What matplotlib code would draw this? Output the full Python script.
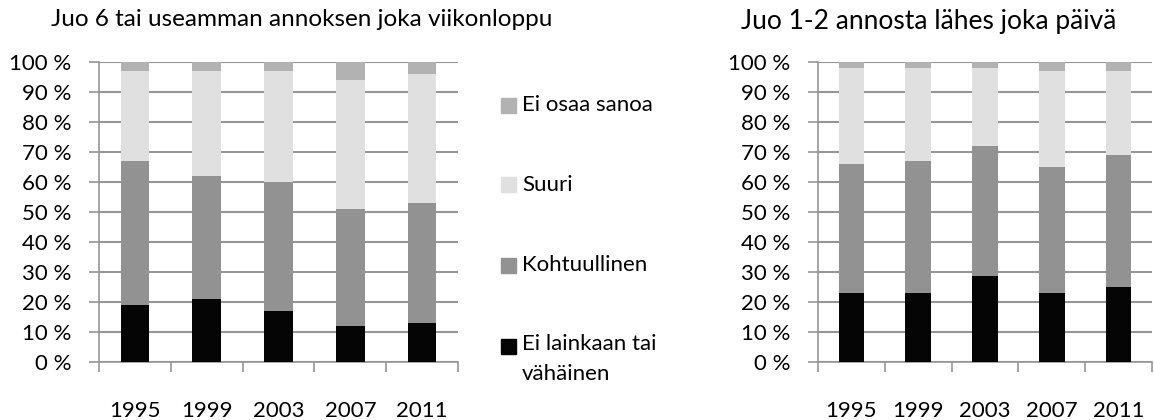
import numpy as np
import matplotlib
matplotlib.use('Agg')
from matplotlib import pyplot as plt
from matplotlib.patches import Rectangle

plt.rcParams['font.family'] = ['Lato', 'DejaVu Sans']

years = ['1995', '1999', '2003', '2007', '2011']
labels = ['Ei lainkaan tai\nvähäinen', 'Kohtuullinen', 'Suuri', 'Ei osaa sanoa']
colors = ['#050505', '#929292', '#e0e0e0', '#b2b2b2']

# Juo 6 tai useamman annoksen joka viikonloppu
left_vals = [
    [19, 21, 17, 12, 13],   # Ei lainkaan tai vähäinen
    [48, 41, 43, 39, 40],   # Kohtuullinen
    [30, 35, 37, 43, 43],   # Suuri
    [3, 3, 3, 6, 4],        # Ei osaa sanoa
]
# Juo 1-2 annosta lähes joka päivä
right_vals = [
    [23, 23, 28.5, 23, 25],
    [43, 44, 43.5, 42, 44],
    [32, 31, 26, 32, 28],
    [2, 2, 2, 3, 3],
]

fig = plt.figure(figsize=(11.54, 4.2), dpi=100)
ax1 = fig.add_axes([0.0858, 0.1381, 0.3111, 0.7143])
ax2 = fig.add_axes([0.7088, 0.1381, 0.2895, 0.7143])

grid_col = '#969696'
fs = 16


def draw(ax, vals, width):
    x = np.arange(len(years))
    bottom = np.zeros(len(years))
    for v, c in zip(vals, colors):
        ax.bar(x, v, width, bottom=bottom, color=c, zorder=3)
        bottom += np.array(v)
    ax.set_ylim(0, 100)
    ax.set_xlim(-0.5, len(years) - 0.5)
    ax.set_yticks(range(0, 101, 10))
    ax.set_yticklabels([f'{t} %' for t in range(0, 101, 10)], fontsize=fs)
    ax.set_xticks(x)
    ax.set_xticklabels(years, fontsize=fs)
    ax.set_xticks(np.arange(-0.5, len(years)), minor=True)
    ax.tick_params(axis='x', which='major', length=0, pad=28)
    ax.tick_params(axis='x', which='minor', length=7, color=grid_col, width=1.2)
    ax.tick_params(axis='y', length=7, color=grid_col, width=1.2, pad=13)
    ax.grid(axis='y', color=grid_col, linewidth=1.5, zorder=0)
    for s in ['top', 'right']:
        ax.spines[s].set_visible(False)
    for s in ['left', 'bottom']:
        ax.spines[s].set_color(grid_col)
        ax.spines[s].set_linewidth(1.2)


draw(ax1, left_vals, 0.4)
draw(ax2, right_vals, 0.385)

W, H = 1154, 420
fig.text(302 / W, 1 - 19 / H, 'Juo 6 tai useamman annoksen joka viikonloppu',
         ha='center', va='center', fontsize=17.5)
fig.text(929 / W, 1 - 21 / H, 'Juo 1-2 annosta lähes joka päivä',
         ha='center', va='center', fontsize=19)

# legend drawn by hand, one entry every ~80 px
rows_y = [346, 265, 185, 105]
for c, l, yy in zip(colors, labels, rows_y):
    fig.patches.append(Rectangle((501 / W, 1 - (yy + 7.5) / H), 15 / W, 15 / H,
                                 transform=fig.transFigure, color=c))
    fig.text(522 / W, 1 - yy / H, l, ha='left', va='top' if '\n' in l else 'center',
             fontsize=fs, linespacing=1.6)
# move multiline label so its first line sits on the square
fig.texts[-4].set_y(1 - (346 - 12) / H)

plt.savefig('out.png', dpi=100)
